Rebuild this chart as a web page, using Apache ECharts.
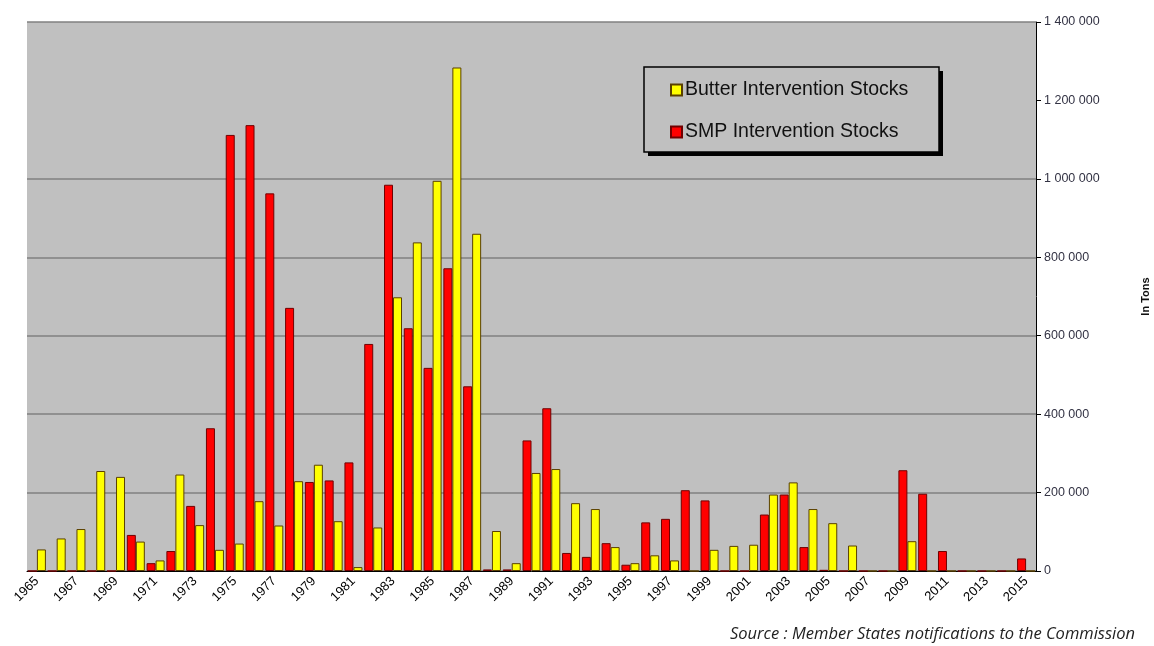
<!DOCTYPE html>
<html>
<head>
<meta charset="utf-8">
<title>Intervention stocks</title>
<script src="https://cdn.jsdelivr.net/npm/echarts@6/dist/echarts.min.js"></script>
<style>
  html, body { margin: 0; padding: 0; background: #fff; }
  #chart { width: 1154px; height: 646px; }
</style>
</head>
<body>
<div id="chart"></div>
<script>
// years 1965 - 2015
const years = [];
for (let y = 1965; y <= 2015; y++) years.push(String(y));

// tonnes
const smpStocks = [
  0, 0, 0, 0, 0, 92000, 20000, 51000, 166000, 364000,
  1112000, 1137000, 963000, 671000, 227000, 231000, 277000, 579000, 985000, 619000,
  518000, 772000, 471000, 4000, 4000, 333000, 415000, 46000, 36000, 71000,
  16000, 124000, 133000, 206000, 180000, 0, 0, 144000, 195000, 61000,
  3000, 0, 0, 0, 257000, 197000, 51000, 0, 0, 0,
  32000
];
const butterStocks = [
  55000, 83000, 107000, 255000, 240000, 75000, 27000, 246000, 117000, 54000,
  70000, 178000, 116000, 229000, 271000, 127000, 10000, 111000, 698000, 838000,
  995000, 1284000, 860000, 102000, 20000, 250000, 260000, 173000, 158000, 61000,
  20000, 40000, 27000, 0, 54000, 64000, 67000, 195000, 226000, 158000,
  122000, 65000, 0, 0, 76000, 0, 0, 0, 0, 0,
  0
];

const seriesNames = ["SMP Intervention Stocks", "Butter Intervention Stocks"];
const legendOrder = ["Butter Intervention Stocks", "SMP Intervention Stocks"];

const FONT = "Liberation Sans, Arial, sans-serif";

function spaced(v) {
  return String(v).replace(/\B(?=(\d{3})+(?!\d))/g, " ");
}

const chart = echarts.init(document.getElementById("chart"), null, { renderer: "canvas" });

chart.setOption({
  animation: false,
  backgroundColor: "#fff",
  grid: {
    left: 27, right: 118, top: 22, bottom: 75,
    outerBoundsMode: "none",
    show: true,
    backgroundColor: "#c0c0c0",
    borderWidth: 0,
  },
  legend: {
    data: legendOrder,
    orient: "vertical",
    left: 644,
    top: 67,
    padding: [13, 26, 14, 26],
    itemGap: 22,
    itemWidth: 11,
    itemHeight: 11,
    icon: "rect",
    textStyle: { fontFamily: FONT, fontSize: 19.5, color: "#111", padding: [0, 0, 0, -2] },
    z: 5,
  },
  xAxis: {
    type: "category",
    data: years,
    axisLine: { lineStyle: { color: "#000", width: 1 } },
    axisTick: { interval: 0, length: 4, lineStyle: { color: "#000" } },
    axisLabel: {
      interval: 1,
      rotate: 45,
      margin: 8,
      fontFamily: FONT,
      fontSize: 13,
      color: "#000",
    },
    splitLine: { show: false },
  },
  yAxis: {
    type: "value",
    position: "right",
    min: 0,
    max: 1400000,
    interval: 200000,
    name: "In Tons",
    nameLocation: "middle",
    nameRotate: 90,
    nameGap: 104,
    nameTextStyle: { fontFamily: FONT, fontSize: 11, fontWeight: "bold", color: "#111" },
    axisLine: { show: true, lineStyle: { color: "#000", width: 1 } },
    axisTick: { show: true, length: 5, lineStyle: { color: "#000" } },
    axisLabel: {
      margin: 8,
      fontFamily: FONT,
      fontSize: 12.5,
      color: "#334",
      formatter: spaced,
    },
    splitLine: {
      show: true,
      lineStyle: {
        // no gridline at 1 200 000 in the original
        color: ["#808080", "#808080", "#808080", "#808080", "#808080", "#808080", "rgba(0,0,0,0)", "#808080"],
        width: 1.5,
      },
    },
  },
  series: [
    {
      name: seriesNames[0],
      type: "bar",
      data: smpStocks,
      barWidth: 9,
      barGap: "0%",
      itemStyle: { color: "#ff0000", borderColor: "#700000", borderWidth: 1 },
    },
    {
      name: seriesNames[1],
      type: "bar",
      data: butterStocks,
      barWidth: 9,
      barGap: "0%",
      itemStyle: { color: "#ffff00", borderColor: "#5a4000", borderWidth: 1 },
    },
  ],
  graphic: [
    // legend frame with hard drop shadow
    {
      type: "rect",
      z: 1,
      shape: { x: 648, y: 71, width: 295, height: 85 },
      style: { fill: "#000" },
    },
    {
      type: "rect",
      z: 2,
      shape: { x: 644, y: 67, width: 295, height: 85 },
      style: { fill: "#c0c0c0", stroke: "#000", lineWidth: 1.5 },
    },
    {
      type: "text",
      right: 19,
      top: 626,
      style: {
        text: "Source : Member States notifications to the Commission",
        font: "italic 16.5px 'Open Sans', sans-serif",
        fill: "#222",
      },
    },
  ],
});
</script>
</body>
</html>
